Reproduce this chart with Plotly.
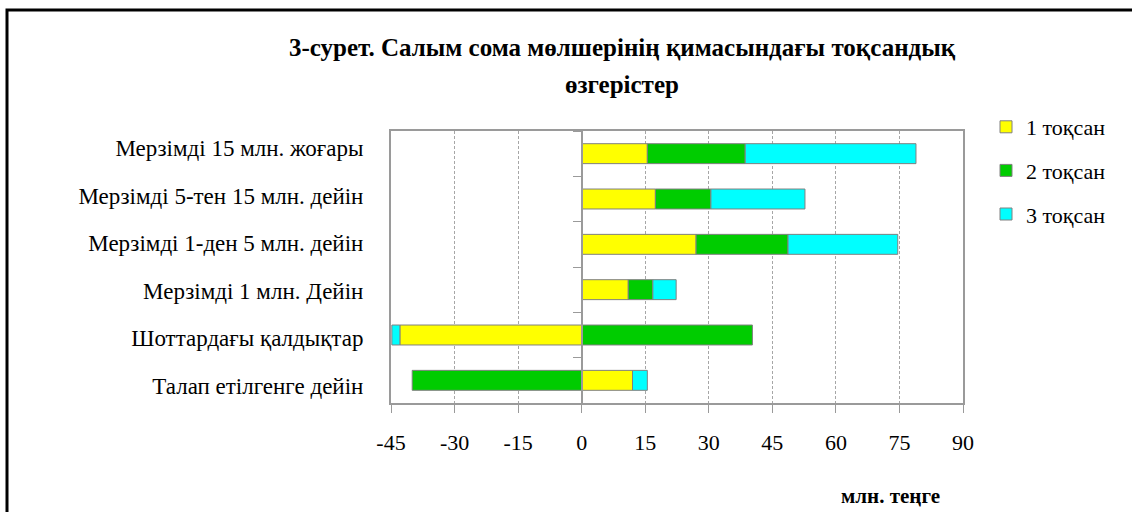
import plotly.graph_objects as go

categories = [
    "Талап етілгенге дейін",
    "Шоттардағы қалдықтар",
    "Мерзімді 1 млн. Дейін",
    "Мерзімді 1-ден 5 млн. дейін",
    "Мерзімді 5-тен 15 млн. дейін",
    "Мерзімді 15 млн. жоғары",
]
q1 = [12.0, -42.9, 11.0, 27.0, 17.4, 15.5]
q2 = [-40.0, 40.3, 5.8, 21.7, 13.1, 23.1]
q3 = [3.5, -1.9, 5.5, 25.9, 22.2, 40.3]
series_names = ["1 тоқсан", "2 тоқсан", "3 тоқсан"]
series_colors = ["#FFFF00", "#00CC00", "#00FFFF"]
x_ticks = [-45, -30, -15, 0, 15, 30, 45, 60, 75, 90]
x_tick_labels = ["-45", "-30", "-15", "0", "15", "30", "45", "60", "75", "90"]
title_lines = ["3-сурет. Салым сома мөлшерінің қимасындағы тоқсандық", "өзгерістер"]
unit_label = "млн. теңге"

W, H = 1132, 512
L, R, T, B = 391, 963, 131, 403
FONT = "Liberation Serif, Times New Roman, serif"

def px_x(p):
    return (p - L) / (R - L)

def px_y(p):
    return (B - p) / (B - T)

fig = go.Figure()
for i, (name, vals, col) in enumerate(zip(series_names, [q1, q2, q3], series_colors)):
    fig.add_trace(go.Bar(
        y=categories, x=vals, name=name, orientation="h",
        marker=dict(color=col, line=dict(color="#808080", width=1)),
        legendgroup=f"g{i}",
    ))

# invisible trace to carry the category labels on the left
fig.add_trace(go.Scatter(
    y=categories, x=[0] * len(categories), yaxis="y2", mode="markers",
    marker=dict(opacity=0), showlegend=False, hoverinfo="skip",
))

zero_frac = (0 - x_ticks[0]) / (x_ticks[-1] - x_ticks[0])

fig.update_layout(
    width=W, height=H,
    margin=dict(l=L, r=W - R, t=T, b=H - B),
    paper_bgcolor="white", plot_bgcolor="white",
    barmode="relative", bargap=0.56,
    font=dict(family=FONT, size=22, color="black"),
    showlegend=True,
    legend=dict(
        x=px_x(986), y=px_y(106), xanchor="left", yanchor="top",
        font=dict(family=FONT, size=22, color="black"),
        tracegroupgap=12, itemwidth=30, bgcolor="rgba(0,0,0,0)",
    ),
    xaxis=dict(
        range=[x_ticks[0], x_ticks[-1]], tickvals=x_ticks, ticktext=x_tick_labels,
        showgrid=True, gridcolor="#A6A6A6", griddash="3px,2px", gridwidth=1,
        zeroline=False, showline=True, linecolor="#9A9A9A", linewidth=2, mirror=True,
        ticks="outside", ticklen=8, tickcolor="#9A9A9A", tickwidth=1,
        ticklabelstandoff=11, tickfont=dict(family=FONT, size=22),
    ),
    yaxis=dict(
        categoryorder="array", categoryarray=categories,
        anchor="free", position=zero_frac,
        showline=True, linecolor="#9A9A9A", linewidth=1.5,
        ticks="outside", ticklen=8, tickcolor="#9A9A9A", tickson="boundaries",
        showticklabels=False, showgrid=False, zeroline=False,
    ),
    yaxis2=dict(
        overlaying="y", side="left", anchor="x",
        categoryorder="array", categoryarray=categories,
        showline=True, mirror=True, linecolor="#9A9A9A", linewidth=2,
        ticks="", showgrid=False, zeroline=False,
        ticklabelstandoff=21, tickfont=dict(family=FONT, size=23),
    ),
    shapes=[dict(
        type="rect", xref="paper", yref="paper",
        x0=px_x(7), x1=px_x(1145), y0=px_y(10), y1=px_y(530),
        line=dict(color="black", width=3), fillcolor="rgba(0,0,0,0)", layer="above",
    )],
    annotations=[
        dict(text=f"<b>{title_lines[0]}</b>", xref="paper", yref="paper",
             x=px_x(622), y=px_y(47), showarrow=False, xanchor="center", yanchor="middle",
             font=dict(family=FONT, size=25, color="black")),
        dict(text=f"<b>{title_lines[1]}</b>", xref="paper", yref="paper",
             x=px_x(622), y=px_y(85), showarrow=False, xanchor="center", yanchor="middle",
             font=dict(family=FONT, size=25, color="black")),
        dict(text=f"<b>{unit_label}</b>", xref="paper", yref="paper",
             x=px_x(890), y=px_y(496), showarrow=False, xanchor="center", yanchor="middle",
             font=dict(family=FONT, size=21, color="black")),
    ],
)

fig.write_html(
    "out.html",
    config={"displayModeBar": False},
    post_script="document.body.style.margin='0';document.body.style.overflow='hidden';",
)
